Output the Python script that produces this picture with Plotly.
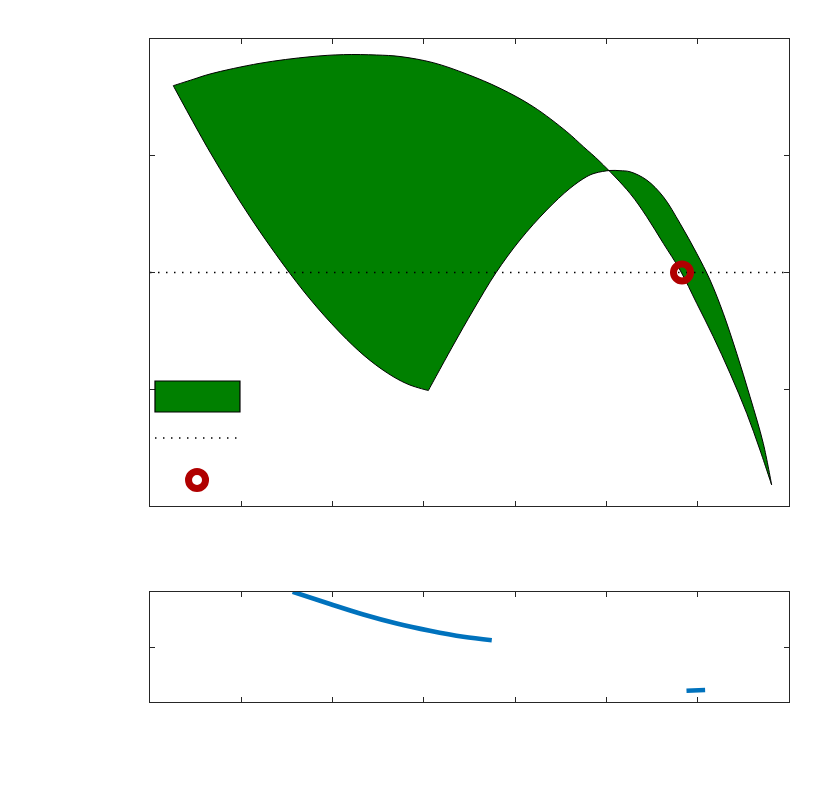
import plotly.graph_objects as go

# Region boundary (data units, x 0..7, y 0..4); corners listed twice to keep them sharp
start_x, start_y = [0.255], [3.600]
upper_x = [0.471, 0.657, 1.205, 1.753, 2.118, 2.483, 2.739, 3.103, 3.469, 3.834, 4.199, 4.565, 4.747, 4.930]
upper_y = [3.654, 3.700, 3.792, 3.848, 3.866, 3.863, 3.850, 3.797, 3.700, 3.578, 3.420, 3.206, 3.078, 2.949]
lobe_in_x = [5.258, 5.441, 5.623, 5.806, 5.989, 6.171, 6.354, 6.537, 6.682]
lobe_in_y = [2.678, 2.478, 2.250, 2.021, 1.736, 1.450, 1.137, 0.794, 0.480]
tip_x, tip_y = [6.810], [0.180]
lobe_out_x = [6.718, 6.573, 6.427, 6.280, 6.135, 5.989, 5.806, 5.623, 5.441, 5.258, 5.149, 5.039]
lobe_out_y = [0.537, 0.936, 1.308, 1.651, 1.936, 2.164, 2.421, 2.649, 2.792, 2.863, 2.872, 2.874]
lower_x = [4.875, 4.784, 4.601, 4.346, 4.053, 3.790, 3.542, 3.323]
lower_y = [2.851, 2.821, 2.721, 2.535, 2.278, 1.998, 1.679, 1.379]
bottom_x, bottom_y = [3.049], [0.989]
left_x = [2.848, 2.662, 2.410, 2.155, 1.826, 1.534, 1.095, 0.657]
left_y = [1.036, 1.109, 1.247, 1.427, 1.705, 1.991, 2.477, 3.032]

ref_x = [0, 7]
ref_y = [2, 2]
pt_x = [5.828]
pt_y = [2.0]

seg1_x = [1.563, 1.972, 2.337, 2.703, 3.067, 3.432, 3.744]
seg1_y = [2.005, 1.782, 1.591, 1.427, 1.295, 1.185, 1.122]
seg2_x = [5.877, 6.081]
seg2_y = [0.205, 0.218]

poly_x = (start_x * 2 + upper_x + lobe_in_x + tip_x * 2 + lobe_out_x + lower_x
          + bottom_x * 2 + left_x + start_x)
poly_y = (start_y * 2 + upper_y + lobe_in_y + tip_y * 2 + lobe_out_y + lower_y
          + bottom_y * 2 + left_y + start_y)

fig = go.Figure()
fig.add_trace(go.Scatter(x=poly_x, y=poly_y, fill='toself', fillcolor='#008000', mode='lines',
                         line=dict(color='black', width=1, shape='spline', smoothing=1, simplify=False),
                         xaxis='x', yaxis='y'))
fig.add_trace(go.Scatter(x=ref_x, y=ref_y, mode='lines',
                         line=dict(color='black', width=1.5, dash='1.5px,6.5px'), xaxis='x', yaxis='y'))
fig.add_trace(go.Scatter(x=pt_x, y=pt_y, mode='markers',
                         marker=dict(symbol='circle-open', size=17, color='#B00000', line=dict(width=7, color='#B00000')),
                         xaxis='x', yaxis='y'))
fig.add_trace(go.Scatter(x=seg1_x, y=seg1_y, mode='lines',
                         line=dict(color='#0072BD', width=4.5, shape='spline'),
                         xaxis='x2', yaxis='y2', cliponaxis=False))
fig.add_trace(go.Scatter(x=seg2_x, y=seg2_y, mode='lines', line=dict(color='#0072BD', width=4.5),
                         xaxis='x2', yaxis='y2'))

axis_style = dict(showline=True, mirror='ticks', ticks='inside', ticklen=5, tickwidth=1,
                  tickcolor='#262626', linecolor='#262626', linewidth=1.2,
                  showticklabels=False, showgrid=False, zeroline=False)

# legend (no text) drawn in axis-domain coordinates
shapes = [
    dict(type='rect', xref='x domain', yref='y domain', x0=0.0078, x1=0.1408, y0=0.2013, y1=0.2677,
         fillcolor='#008000', line=dict(color='black', width=1.2)),
    dict(type='line', xref='x domain', yref='y domain', x0=0.0078, x1=0.1408, y0=0.1456, y1=0.1456,
         line=dict(color='black', width=1.5, dash='1.5px,6.5px')),
    dict(type='circle', xref='x domain', yref='y domain', x0=0.0736 - 0.0133, x1=0.0736 + 0.0133,
         y0=0.0557 - 0.0182, y1=0.0557 + 0.0182, line=dict(color='#B00000', width=7)),
]

fig.update_layout(
    width=823, height=782, showlegend=False,
    paper_bgcolor='white', plot_bgcolor='white',
    margin=dict(l=142, r=42, t=31, b=88),
    xaxis=dict(domain=[0, 1], range=[0, 7], dtick=1, anchor='y', **axis_style),
    yaxis=dict(domain=[0.2956, 1], range=[0, 4], dtick=1, anchor='x', **axis_style),
    xaxis2=dict(domain=[0, 1], range=[0, 7], dtick=1, anchor='y2', **axis_style),
    yaxis2=dict(domain=[0, 0.1659], range=[0, 2], dtick=1, anchor='x2', **axis_style),
    shapes=shapes,
)

fig.write_html("out.html")
